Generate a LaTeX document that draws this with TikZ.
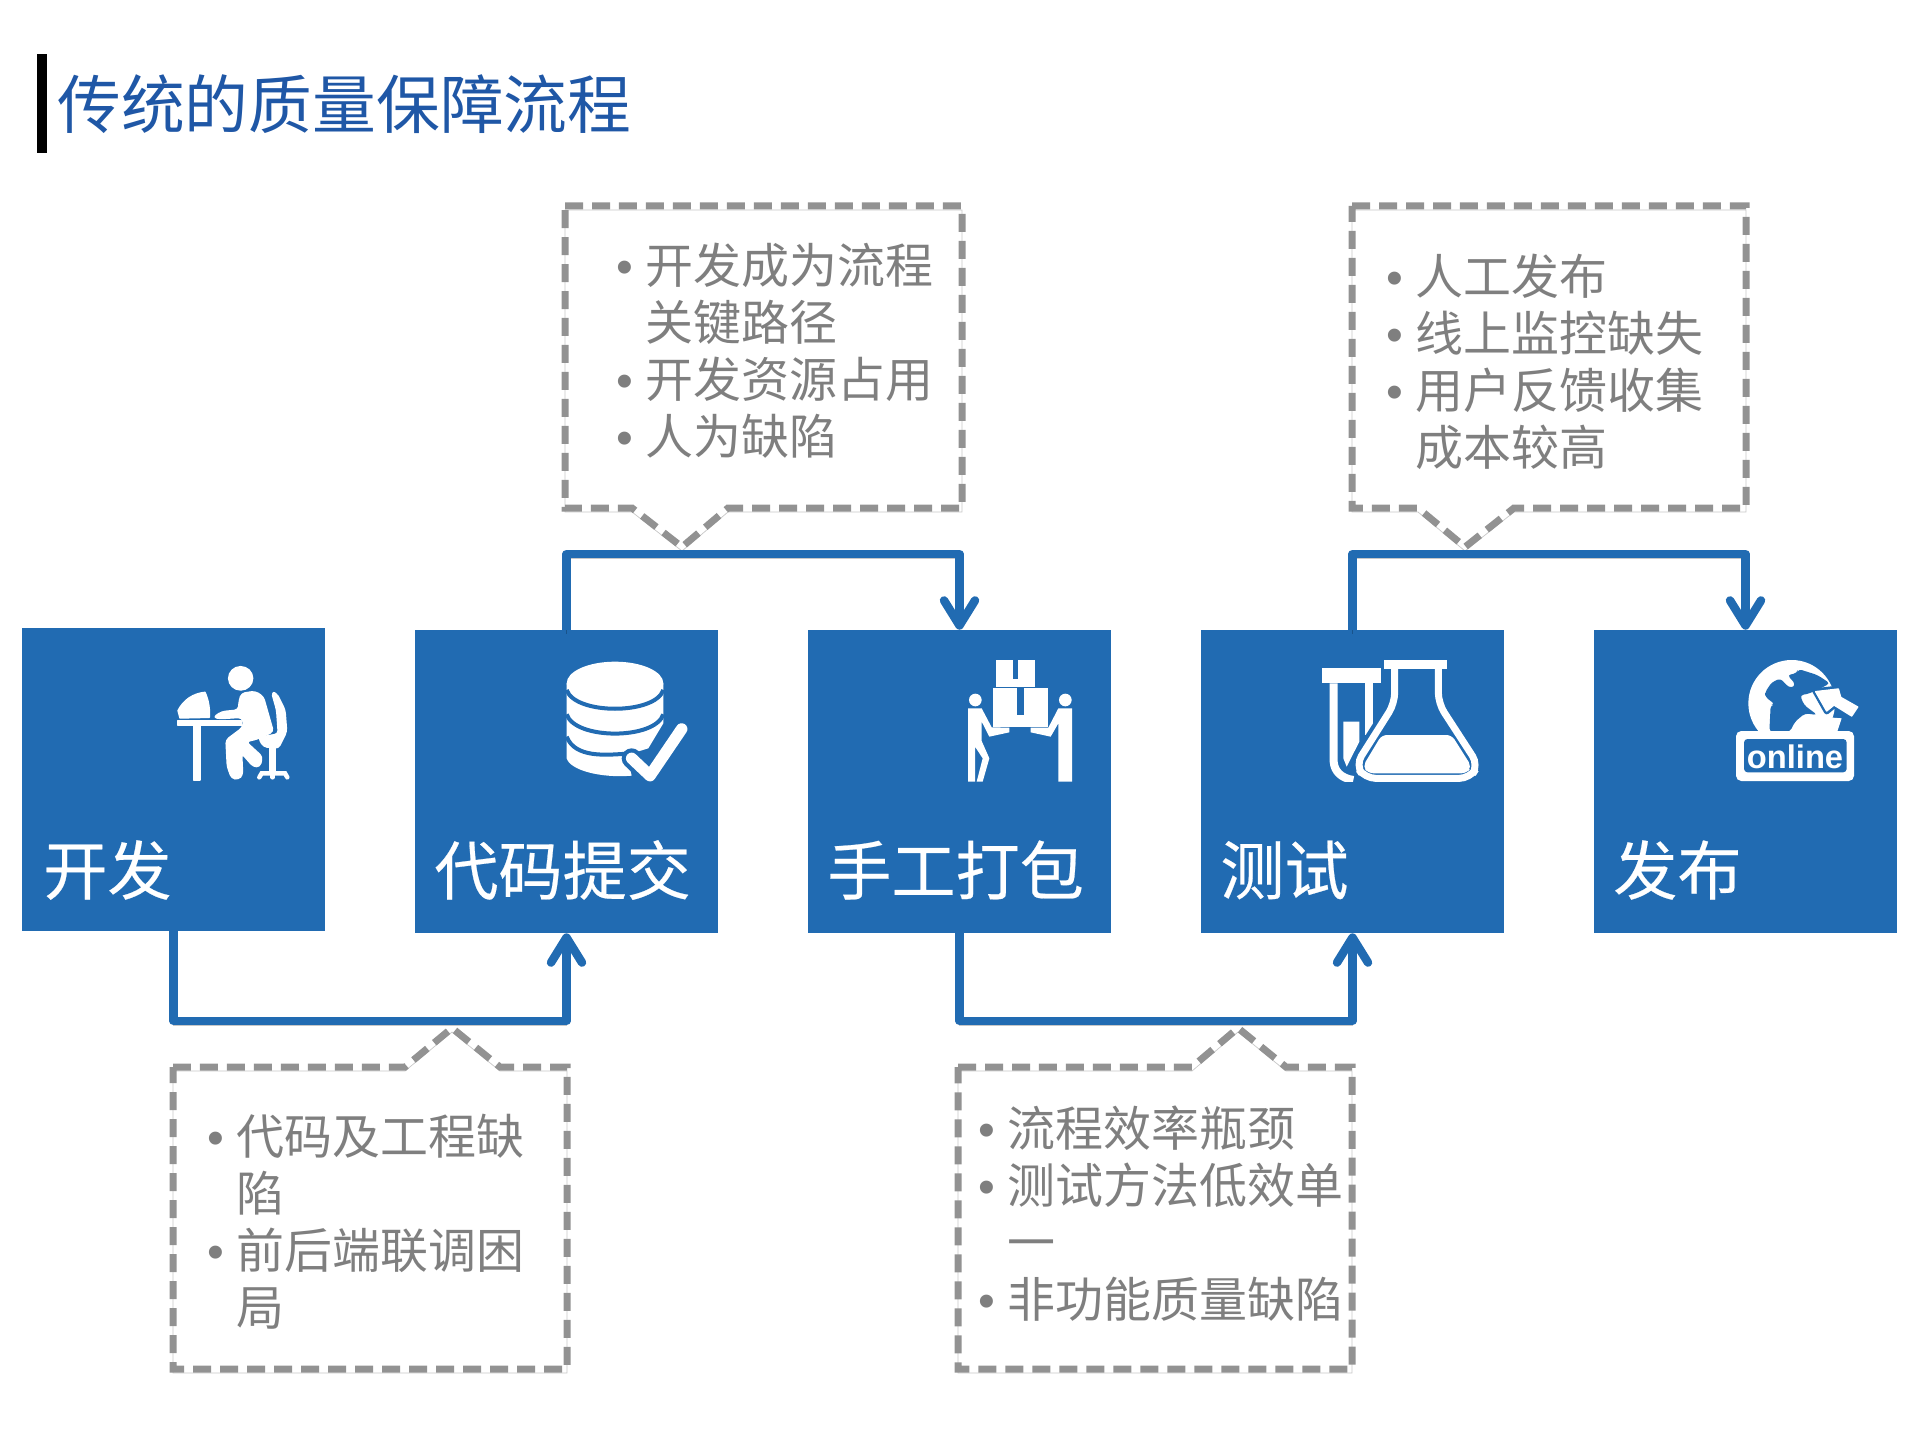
\documentclass[tikz,border=0pt]{standalone}
\usepackage{fontspec}
\setmainfont{Noto Sans CJK SC}
\newfontfamily\onlinefont{Liberation Sans}
\newfontfamily\stepfont[FakeBold=0.35]{Noto Sans CJK SC}
\usetikzlibrary{arrows.meta,calc}
\definecolor{stepblue}{HTML}{216BB2}
\definecolor{titleblue}{HTML}{1F57A6}
\definecolor{notegray}{HTML}{7F7F7F}
\definecolor{dashgray}{HTML}{929292}
\newcommand{\nb}{\llap{{\onlinefont\textbullet}\hspace{6.8pt}}}
\tikzset{
  stepbox/.style={fill=stepblue,minimum width=6.06cm,minimum height=6.06cm,inner sep=0pt},
  steplabel/.style={text=white,anchor=west,inner sep=0pt,font=\stepfont\fontsize{36.5}{40}\selectfont},
  notetext/.style={text=notegray,anchor=west,align=left,inner sep=0pt,font=\fontsize{27.3}{32.4}\selectfont},
  softshadow/.style={preaction={draw=black,draw opacity=.22,transform canvas={yshift=-0.08cm}}},
  notedash/.style={draw=dashgray,line width=0.14cm,dash pattern=on 0.36cm off 0.18cm,softshadow},
  flow/.style={draw=stepblue,line width=0.17cm,line join=round,softshadow,
    -{Straight Barb[round,length=0.5cm,width=0.62cm]}},
  iconunit/.style={x=0.02cm/3,y=-0.02cm/3},
  iconfill/.style={fill=white,draw=white,line width=0.8pt,line join=round},
}
\begin{document}
\begin{tikzpicture}[x=0.02cm,y=-0.02cm]
  \useasboundingbox (0,0) rectangle (1919,1439);
  \fill (37,54) rectangle (47,153);
  \node[text=titleblue,anchor=west,inner sep=0pt,font=\fontsize{36.3}{40}\selectfont] (title) at (57,104) {传统的质量保障流程};

  \node[stepbox] (dev) at (173.5,779.5) {};
  \node[stepbox] (commit) at (566.5,781.5) {};
  \node[stepbox] (pack) at (959.5,781.5) {};
  \node[stepbox] (test) at (1352.5,781.5) {};
  \node[stepbox] (release) at (1745.5,781.5) {};
  \node[steplabel] (devlabel) at (43,870) {开发};
  \node[steplabel] (commitlabel) at (434,870) {代码提交};
  \node[steplabel] (packlabel) at (827,870) {手工打包};
  \node[steplabel] (testlabel) at (1220,870) {测试};
  \node[steplabel] (releaselabel) at (1613,870) {发布};

  \draw[notedash] (565,206) -- (962,206) -- (962,508) -- (728,508) -- (682,547) -- (632,508) -- (565,508) -- cycle;
  \draw[notedash] (1352,206) -- (1746,206) -- (1746,508) -- (1514,508) -- (1465,547) -- (1418,508) -- (1352,508) -- cycle;
  \draw[notedash] (173,1067) -- (405,1067) -- (452,1028) -- (500,1067) -- (567,1067) -- (567,1369) -- (173,1369) -- cycle;
  \draw[notedash] (958,1067) -- (1192,1067) -- (1238,1028) -- (1286,1067) -- (1352,1067) -- (1352,1369) -- (958,1369) -- cycle;

  \node[notetext] (noteb) at (645,351) {\nb 开发成为流程\\关键路径\\\nb 开发资源占用\\\nb 人为缺陷};
  \node[notetext] (noted) at (1415,362) {\nb 人工发布\\\nb 线上监控缺失\\\nb 用户反馈收集\\成本较高};
  \node[notetext] (notea) at (236,1222) {\nb 代码及工程缺\\陷\\\nb 前后端联调困\\局};
  \node[notetext] (notec) at (1007,1214) {\nb 流程效率瓶颈\\\nb 测试方法低效单\\一\\\nb 非功能质量缺陷};

  \coordinate (lowbus) at (0,1021);
  \coordinate (highbus) at (0,554);
  \draw[flow] (dev.south) -- (dev.south |- lowbus) -- (commit.south |- lowbus) -- (commit.south);
  \draw[flow] (commit.north) -- (commit.north |- highbus) -- (pack.north |- highbus) -- (pack.north);
  \draw[flow] (pack.south) -- (pack.south |- lowbus) -- (test.south |- lowbus) -- (test.south);
  \draw[flow] (test.north) -- (test.north |- highbus) -- (release.north |- highbus) -- (release.north);

  \begin{scope}[shift={(170,660)},iconunit]
    \fill[iconfill] (212,55) ellipse (36 and 35);
    \fill[iconfill] (24,152) .. controls (40,120) and (70,100) .. (105,97) .. controls (116,120) and (120,150) .. (118,172) -- (30,174) -- cycle;
    \fill[iconfill] (24,182) rectangle (215,197);
    \fill[iconfill] (70,197) rectangle (90,360);
    \fill[iconfill,rounded corners=2pt] (215,100) -- (255,94) -- (280,110) -- (310,215) -- (262,237) -- (228,245) -- (277,290) -- (270,320) -- (250,320) -- (215,280) -- (218,345) -- (205,358) -- (185,355) -- (172,320) -- (168,240) -- (215,205) -- (222,190) -- (215,172) -- (150,176) -- (130,172) -- (155,155) -- (205,150) -- (208,120) -- cycle;
    \fill[iconfill,rounded corners=2pt] (305,97) -- (320,100) -- (345,150) -- (350,215) -- (335,245) -- (325,265) -- (280,260) -- (265,232) -- (325,222) -- (320,150) -- cycle;
    \fill[iconfill] (300,260) rectangle (316,335);
    \draw[white,line width=0.09cm,line cap=round] (268,352) -- (275,340) -- (345,340) -- (352,352);
    \draw[white,line width=0.09cm,line cap=round] (308,335) -- (308,352);
  \end{scope}

  \begin{scope}[shift={(560,655)},iconunit]
    \fill[white] (20,85) -- (20,310) .. controls (30,345) and (120,370) .. (215,362) -- (200,300) -- (265,280) -- (310,205) -- (310,85) -- cycle;
    \fill[white] (165,85) ellipse (145 and 65);
    \draw[stepblue,line width=0.08cm] (20,105) .. controls (45,180) and (285,180) .. (310,105);
    \draw[stepblue,line width=0.08cm] (20,178) .. controls (45,255) and (285,255) .. (310,178);
    \draw[stepblue,line width=0.08cm] (20,245) .. controls (45,310) and (140,300) .. (200,296);
    \draw[stepblue,line width=0.4cm,line cap=round,line join=round] (215,310) -- (270,362) -- (365,222);
    \draw[white,line width=0.23cm,line cap=round,line join=round] (215,310) -- (270,362) -- (365,222);
  \end{scope}

  \begin{scope}[shift={(960,655)},iconunit]
    \fill[white] (108,15) rectangle (225,97);
    \fill[stepblue] (160,15) rectangle (175,72);
    \fill[white] (100,100) rectangle (265,215);
    \fill[stepblue] (172,100) rectangle (192,180);
    \fill[white] (46,135) circle (19);
    \fill[white] (316,135) circle (19);
    \fill[white] (24,160) -- (65,160) -- (95,217) -- (148,218) -- (148,232) -- (88,245) -- (65,200) -- (65,258) -- (88,310) -- (68,380) -- (50,380) -- (68,310) -- (45,275) -- (45,380) -- (24,380) -- cycle;
    \fill[white] (295,160) -- (336,160) -- (336,380) -- (295,380) -- (295,205) -- (272,245) -- (212,232) -- (212,218) -- (265,218) -- cycle;
  \end{scope}

  \begin{scope}[shift={(1315,655)},iconunit]
    \fill[white] (22,40) rectangle (197,85);
    \fill[white] (207,15) rectangle (395,42);
    \clip (0,0) rectangle (510,380);
    \draw[white,line width=0.16cm] (56,85) -- (56,320) .. controls (58,350) and (80,370) .. (115,375);
    \draw[white,line width=0.16cm] (163,85) -- (163,240);
    \fill[white] (85,200) -- (133,200) -- (133,260) -- (95,335) -- (85,310) -- cycle;
    \draw[stepblue,line width=0.3cm,rounded corners=6pt] (239,42) -- (239,145) -- (122,330) -- (150,370) -- (465,370) -- (490,330) -- (370,145) -- (370,42);
    \draw[white,line width=0.14cm,rounded corners=6pt] (239,42) -- (239,145) -- (122,330) -- (150,370) -- (465,370) -- (490,330) -- (370,145) -- (370,42);
    \fill[white,rounded corners=3pt] (200,240) -- (410,240) -- (470,335) -- (455,355) -- (160,355) -- (143,335) -- cycle;
  \end{scope}

  \begin{scope}[shift={(1730,655)},iconunit]
    \fill[white] (185,145) circle (130);
    \fill[white] (270,185) -- (335,190) -- (320,235) -- (180,235) -- cycle;
    \fill[stepblue,rounded corners=2pt] (105,112) -- (125,82) -- (152,70) -- (168,90) -- (185,100) -- (197,88) -- (172,60) -- (200,55) -- (205,42) -- (262,60) -- (300,85) -- (262,105) -- (230,118) -- (210,120) -- (222,150) -- (262,180) -- (225,175) -- (195,200) -- (180,230) -- (118,230) -- (122,150) -- (135,148) -- (105,125) -- cycle;
    \fill[stepblue] (305,75) -- (400,75) -- (400,180) -- (345,180) -- cycle;
    \draw[stepblue,line width=0.11cm,line join=round] (255,108) -- (325,100) -- (332,125) -- (385,155) -- (365,185) -- (312,152) -- (290,170) -- cycle;
    \fill[iconfill] (257,110) -- (325,102) -- (332,127) -- (383,156) -- (365,183) -- (312,150) -- (290,168) -- cycle;
    \fill[white,rounded corners=3pt] (18,228) rectangle (372,378);
    \fill[stepblue,rounded corners=2pt] (42,252) rectangle (350,352);
    \node[text=white,inner sep=0pt,font=\onlinefont\bfseries\fontsize{18.6}{20}\selectfont] (onlinelabel) at (195,306) {online};
  \end{scope}
\end{tikzpicture}
\end{document}
